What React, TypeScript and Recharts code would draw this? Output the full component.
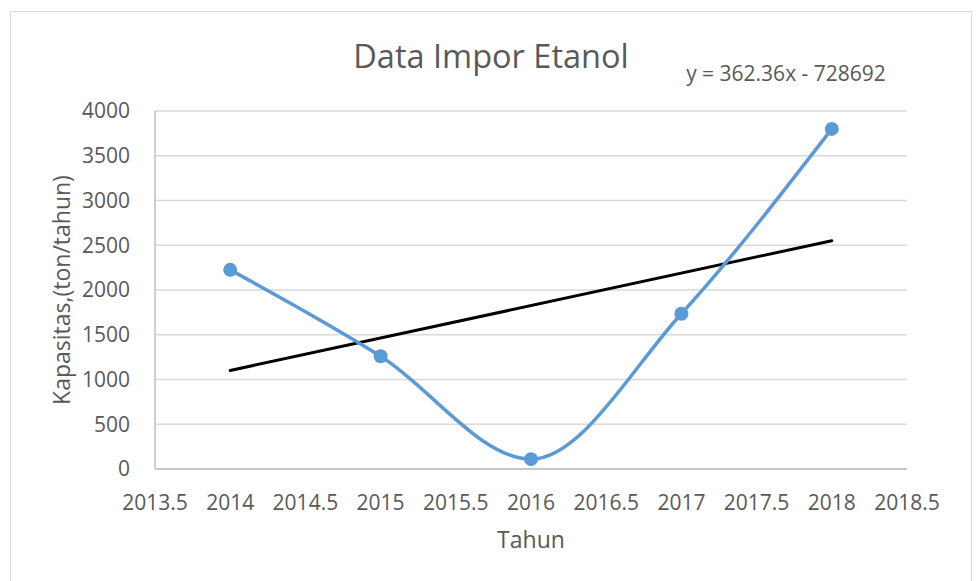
import React from 'react';
import { LineChart, Line, XAxis, YAxis, CartesianGrid } from 'recharts';

const tahun = [2014, 2015, 2016, 2017, 2018];
const impor = [2225, 1260, 110, 1735, 3800];
const trendTahun = [2014, 2018];
const trendNilai = [1101, 2551];
const xTicks = [2013.5, 2014, 2014.5, 2015, 2015.5, 2016, 2016.5, 2017, 2017.5, 2018, 2018.5];
const yTicks = [0, 500, 1000, 1500, 2000, 2500, 3000, 3500, 4000];

const data = tahun.map((t, i) => {
  const k = trendTahun.indexOf(t);
  return { tahun: t, impor: impor[i], trend: k >= 0 ? trendNilai[k] : null };
});

const FONT = '"Open Sans", sans-serif';
const GREY = '#595959';

const App: React.FC = () => {
  return (
    <div style={{ position: 'absolute', left: 0, top: 0, width: 977, height: 581, background: '#fff', fontFamily: FONT }}>
      <div style={{ position: 'absolute', left: 10, top: 11, width: 960, height: 575, border: '1px solid #d9d9d9' }} />
      <div style={{ position: 'absolute', left: 0, top: 0 }}>
        <LineChart width={977} height={581} data={data} margin={{ top: 111, right: 70, bottom: 0, left: 0 }}>
          <CartesianGrid vertical={false} stroke="#d9d9d9" strokeWidth={1.5} />
          <XAxis
            dataKey="tahun"
            type="number"
            domain={[2013.5, 2018.5]}
            ticks={xTicks}
            height={112}
            tickLine={false}
            tickSize={24}
            axisLine={{ stroke: '#bfbfbf', strokeWidth: 1.5 }}
            tick={{ fill: GREY, fontSize: 21, fontFamily: FONT }}
            interval={0}
          />
          <YAxis
            domain={[0, 4000]}
            ticks={yTicks}
            width={155}
            tickLine={false}
            tickSize={23}
            axisLine={{ stroke: '#bfbfbf', strokeWidth: 1.5 }}
            tick={{ fill: GREY, fontSize: 21, fontFamily: FONT }}
            interval={0}
          />
          <Line
            dataKey="trend"
            stroke="#000"
            strokeWidth={3}
            strokeLinecap="round"
            dot={false}
            activeDot={false}
            connectNulls
            isAnimationActive={false}
          />
          <Line
            dataKey="impor"
            type="monotone"
            stroke="#5B9BD5"
            strokeWidth={3.5}
            dot={{ r: 7, fill: '#5B9BD5', stroke: 'none' }}
            activeDot={false}
            isAnimationActive={false}
          />
          <text x={491} y={68} textAnchor="middle" fill={GREY} fontSize={32.5} fontFamily={FONT}>
            Data Impor Etanol
          </text>
          <text x={786} y={81} textAnchor="middle" fill={GREY} fontSize={21} fontFamily={FONT}>
            y = 362.36x - 728692
          </text>
          <text x={531} y={548} textAnchor="middle" fill={GREY} fontSize={23} fontFamily={FONT}>
            Tahun
          </text>
          <text
            x={0}
            y={0}
            transform="translate(70,290) rotate(-90)"
            textAnchor="middle"
            fill={GREY}
            fontSize={23}
            fontFamily={FONT}
          >
            Kapasitas,(ton/tahun)
          </text>
        </LineChart>
      </div>
    </div>
  );
};

export default App;
